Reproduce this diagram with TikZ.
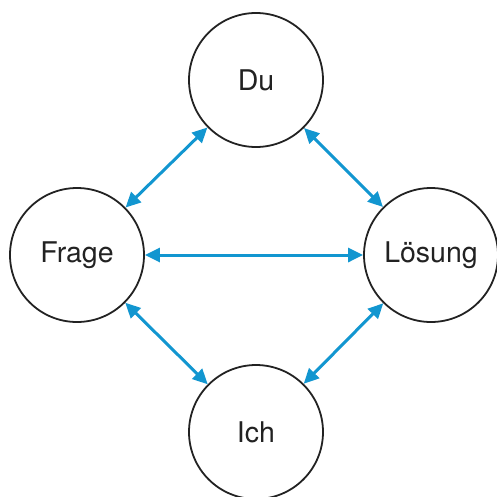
\documentclass[tikz,border=0pt]{standalone}
\usepackage{fontspec}
\setmainfont{TeX Gyre Heros}
\usetikzlibrary{arrows.meta}
\definecolor{arrowblue}{RGB}{18,150,208}
\definecolor{inkgray}{RGB}{34,34,34}
\begin{document}
\begin{tikzpicture}[x=1pt,y=-1pt,
  circ/.style={circle,draw=inkgray,line width=1.8pt,minimum size=134pt,inner sep=0pt,
    font=\fontsize{28.5}{32}\selectfont,text=inkgray},
  link/.style={arrowblue,line width=3pt,{Triangle[length=15pt,width=14pt]}-{Triangle[length=15pt,width=14pt]}}]
\useasboundingbox (0,0) rectangle (497,496);
\node[circ] (du) at (256,80) {Du};
\node[circ] (frage) at (77,255) {Frage};
\node[circ] (loesung) at (431,255) {Lösung};
\node[circ] (ich) at (256,432) {Ich};
\draw[link] (frage) -- (du);
\draw[link] (du) -- (loesung);
\draw[link] (frage) -- (loesung);
\draw[link] (frage) -- (ich);
\draw[link] (ich) -- (loesung);
\end{tikzpicture}
\end{document}
